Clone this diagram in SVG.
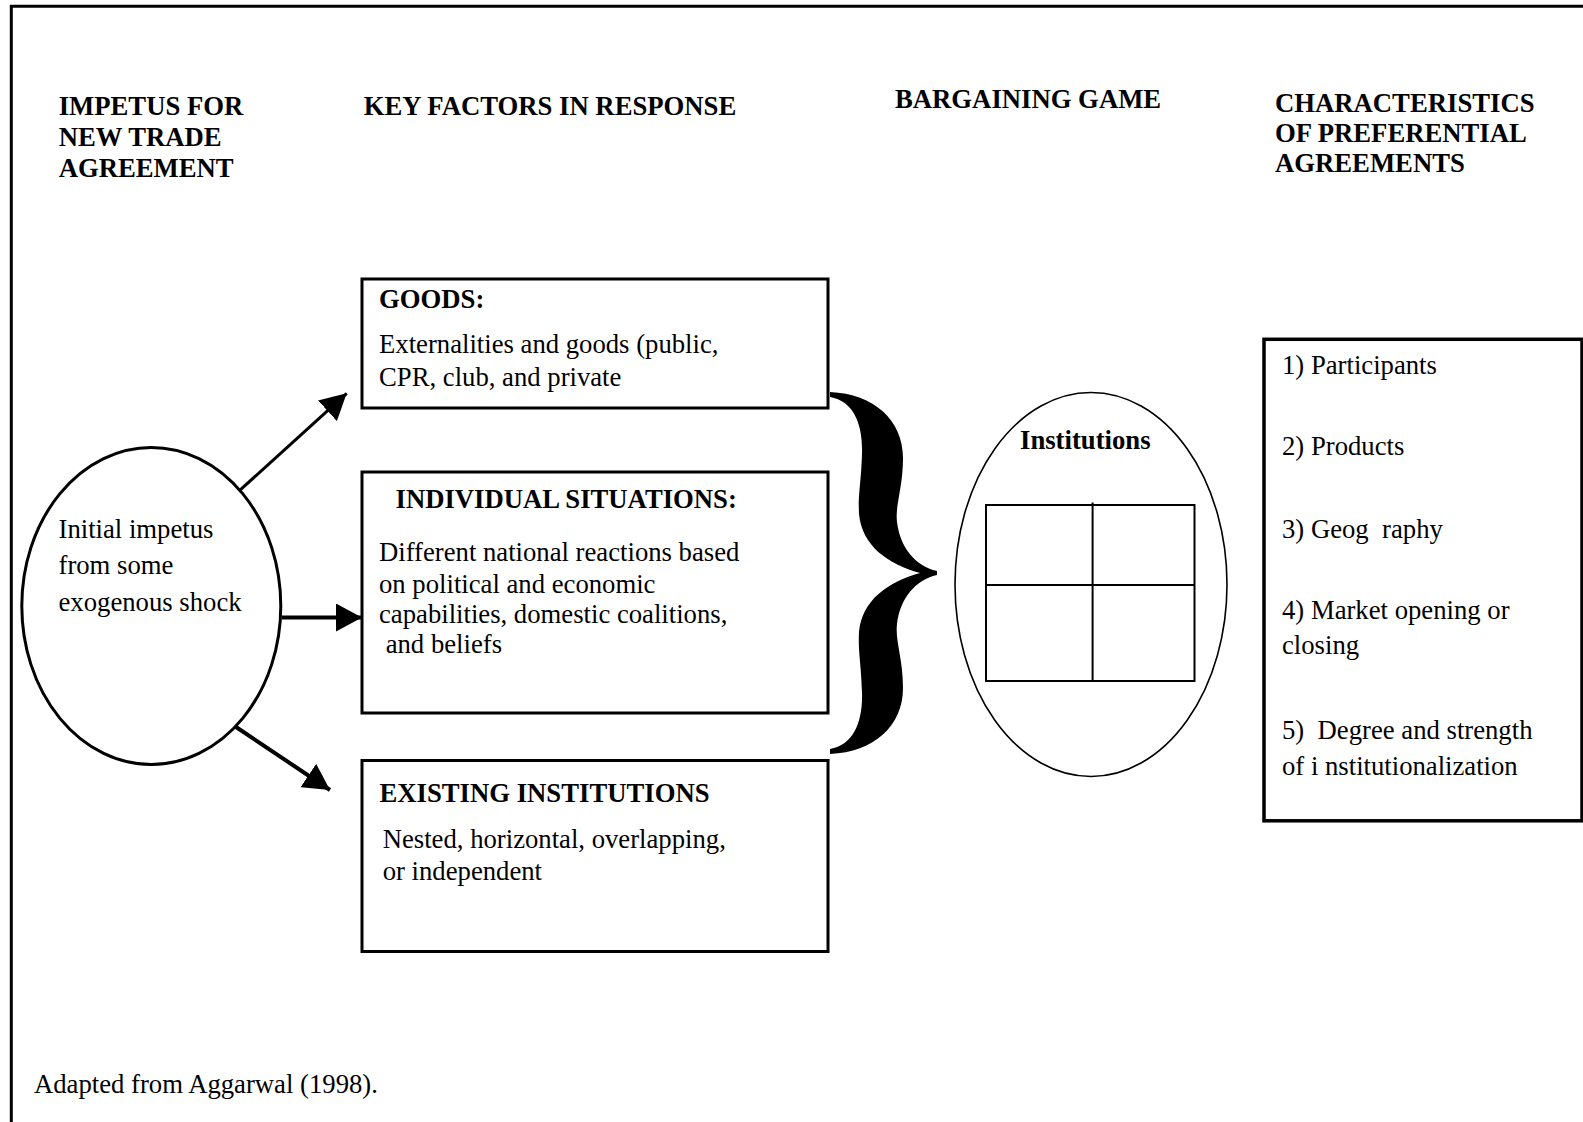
<svg xmlns="http://www.w3.org/2000/svg" width="1583" height="1122" viewBox="0 0 1583 1122">
<style>
text{font-family:"Liberation Serif","Times New Roman",serif;font-size:26.7px;fill:#000}
.b{font-weight:bold}
.box{fill:#fff;stroke:#000;stroke-width:3}
.ln{stroke:#000;fill:none}
</style>
<defs>
<marker id="ah" markerUnits="userSpaceOnUse" markerWidth="27" markerHeight="28" refX="26" refY="14" orient="auto">
<path d="M0,0 L26,14 L0,28 z" fill="#000"/>
</marker>
</defs>
<rect width="1583" height="1122" fill="#fff"/>
<g id="frame">
<line class="ln" x1="10" y1="6.3" x2="1583" y2="6.3" stroke-width="3"/>
<line class="ln" x1="11.3" y1="5" x2="11.3" y2="1122" stroke-width="3"/>
</g>
<g id="headings">
<text class="b" x="58.7" y="115">IMPETUS FOR</text>
<text class="b" x="58.7" y="146">NEW TRADE</text>
<text class="b" x="58.7" y="176.5">AGREEMENT</text>
<text class="b" x="363.8" y="115">KEY FACTORS IN RESPONSE</text>
<text class="b" x="895" y="107.5">BARGAINING GAME</text>
<text class="b" x="1275" y="112">CHARACTERISTICS</text>
<text class="b" x="1275" y="142">OF PREFERENTIAL</text>
<text class="b" x="1275" y="172">AGREEMENTS</text>
</g>
<g id="connectors">
<line class="ln" x1="238.3" y1="491.7" x2="346.7" y2="393.3" stroke-width="3" marker-end="url(#ah)"/>
<line class="ln" x1="282" y1="617.5" x2="362" y2="617.5" stroke-width="4" marker-end="url(#ah)"/>
<line class="ln" x1="236" y1="727" x2="330" y2="790" stroke-width="4" marker-end="url(#ah)"/>
<path id="brace" fill="#000" d="M830,392 C874,394 903,420 903,458 C903,488 895,505 897,522 C900,547 915,566 937,571 L937,575 C915,580 900,599 897,624 C895,641 903,658 903,688 C903,726 874,752 830,754 L830,749 C854,745 863,721 862,692 C861,662 858,652 859,632 C862,600 888,582 920,573 C888,564 862,546 859,514 C858,494 861,484 862,454 C863,425 854,401 830,397 Z"/>
</g>
<g id="impetus">
<ellipse cx="151.3" cy="606" rx="129.5" ry="158.5" fill="#fff" stroke="#000" stroke-width="3"/>
<text x="58.5" y="538.3">Initial impetus</text>
<text x="58.5" y="573.5">from some</text>
<text x="58.5" y="611">exogenous shock</text>
</g>
<g id="goods">
<rect class="box" x="362" y="279" width="466" height="129"/>
<text class="b" x="379" y="307.5">GOODS:</text>
<text x="379" y="353">Externalities and goods (public,</text>
<text x="379" y="385.5">CPR, club, and private</text>
</g>
<g id="individual">
<rect class="box" x="362" y="472" width="466" height="241"/>
<text class="b" x="395.5" y="508">INDIVIDUAL SITUATIONS:</text>
<text x="379" y="561">Different national reactions based</text>
<text x="379" y="592.5">on political and economic</text>
<text x="379" y="623">capabilities, domestic coalitions,</text>
<text x="379" y="653" xml:space="preserve"> and beliefs</text>
</g>
<g id="existing">
<rect class="box" x="362" y="760.5" width="466" height="191"/>
<text class="b" x="379.5" y="802">EXISTING INSTITUTIONS</text>
<text x="382.7" y="848.3">Nested, horizontal, overlapping,</text>
<text x="382.7" y="880">or independent</text>
</g>
<g id="institutions">
<ellipse cx="1091" cy="584.5" rx="136" ry="192" fill="#fff" stroke="#000" stroke-width="1.6"/>
<text class="b" x="1020" y="448.5">Institutions</text>
<rect x="986" y="505" width="208.5" height="176" fill="none" stroke="#000" stroke-width="2"/>
<line class="ln" x1="1092.6" y1="502.5" x2="1092.6" y2="681" stroke-width="2"/>
<line class="ln" x1="986" y1="585" x2="1194.5" y2="585" stroke-width="2"/>
</g>
<g id="characteristics">
<rect x="1264" y="339.3" width="318" height="481.5" fill="#fff" stroke="#000" stroke-width="3.5"/>
<text x="1282" y="373.5">1) Participants</text>
<text x="1282" y="455">2) Products</text>
<text x="1282" y="538" xml:space="preserve">3) Geog  raphy</text>
<text x="1282" y="619">4) Market opening or</text>
<text x="1282" y="654">closing</text>
<text x="1282" y="738.5" xml:space="preserve">5)  Degree and strength</text>
<text x="1282" y="775">of i nstitutionalization</text>
</g>
<g id="source">
<text x="34" y="1093">Adapted from Aggarwal (1998).</text>
</g>
</svg>
